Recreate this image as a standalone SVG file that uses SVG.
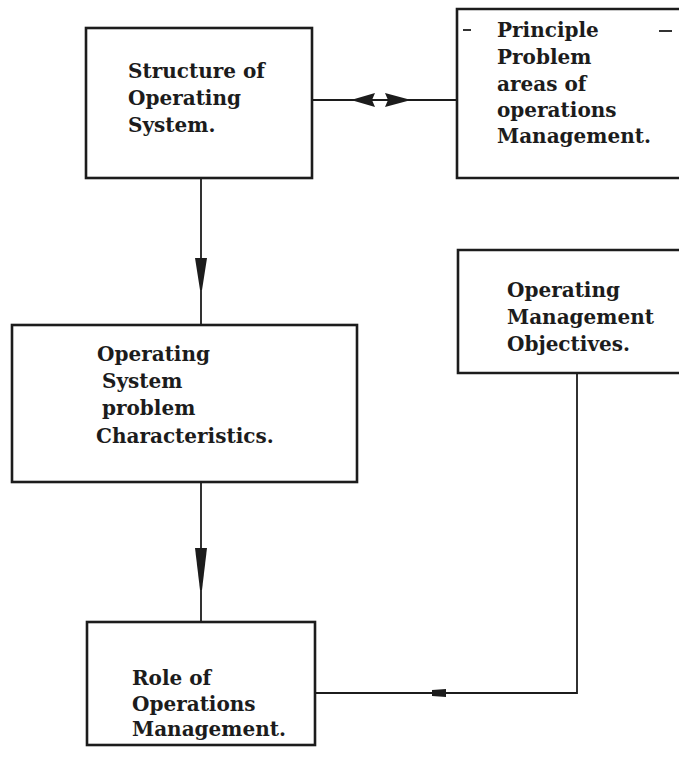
<svg xmlns="http://www.w3.org/2000/svg" width="679" height="775" viewBox="0 0 679 775">
<style>
.box{fill:none;stroke:#1c1c1c;stroke-width:2.6}
.ln{fill:none;stroke:#1c1c1c;stroke-width:1.8}
.ah{fill:#1c1c1c;stroke:none}
text{font-family:"DejaVu Serif","Liberation Serif",serif;font-size:20px;font-weight:bold;fill:#1c1c1c}
</style>
<rect width="679" height="775" fill="#ffffff"/>
<g id="connectors">
<line class="ln" x1="312" y1="100" x2="457" y2="100"/>
<polygon class="ah" points="351,100 375,93 372,100 375,107"/>
<polygon class="ah" points="411,100 385,93 388,100 385,107"/>
<line class="ln" x1="201" y1="178" x2="201" y2="325"/>
<polygon class="ah" points="195,258 207,258 202,290 200,290"/>
<line class="ln" x1="201" y1="482" x2="201" y2="622"/>
<polygon class="ah" points="195,548 207,548 202,590 200,590"/>
<polyline class="ln" points="577,373 577,693 315,693"/>
<polygon class="ah" points="432,690 446,689 446,697 432,696"/>
</g>
<g id="node-structure">
<rect class="box" x="86" y="28" width="226" height="150"/>
<text x="128" y="78">Structure of</text>
<text x="128" y="105">Operating</text>
<text x="128" y="132">System.</text>
</g>
<g id="node-principle">
<path class="box" d="M690,9 H457 V178 H690"/>
<line class="ln" x1="463" y1="30" x2="471" y2="30"/>
<line class="ln" x1="659" y1="31" x2="672" y2="31"/>
<text x="497" y="37">Principle</text>
<text x="497" y="64">Problem</text>
<text x="497" y="91">areas of</text>
<text x="497" y="117">operations</text>
<text x="497" y="143">Management.</text>
</g>
<g id="node-objectives">
<path class="box" d="M690,250 H458 V373 H690"/>
<text x="507" y="297">Operating</text>
<text x="507" y="324">Management</text>
<text x="507" y="351">Objectives.</text>
</g>
<g id="node-characteristics">
<rect class="box" x="12" y="325" width="345" height="157"/>
<text x="97" y="361">Operating</text>
<text x="102" y="388">System</text>
<text x="102" y="415">problem</text>
<text x="96" y="443">Characteristics.</text>
</g>
<g id="node-role">
<rect class="box" x="87" y="622" width="228" height="123"/>
<text x="132" y="685">Role of</text>
<text x="132" y="711">Operations</text>
<text x="132" y="736">Management.</text>
</g>
</svg>
